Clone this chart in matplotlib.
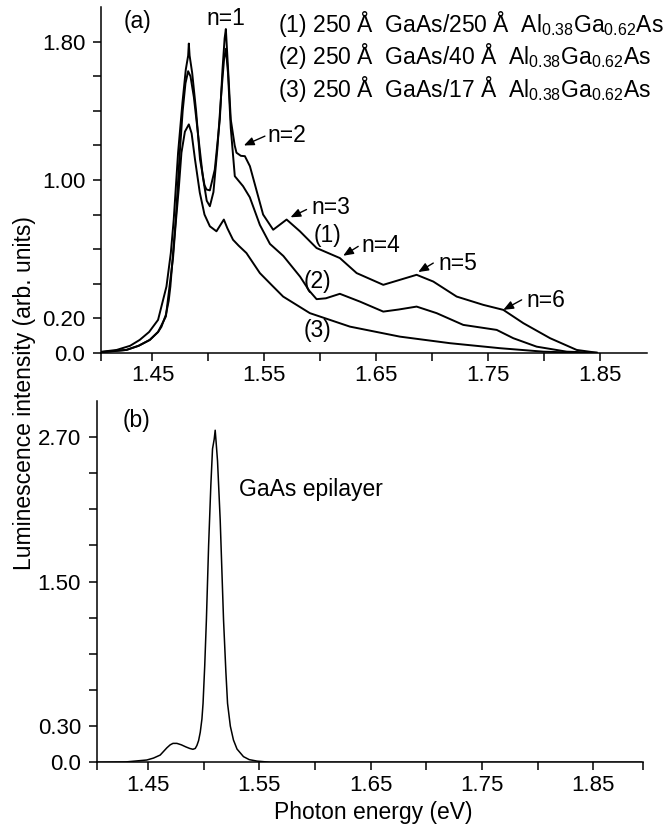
import matplotlib
matplotlib.use("Agg")
import matplotlib.pyplot as plt
from matplotlib.ticker import FixedLocator, FixedFormatter

plt.rcParams['font.family'] = ['Liberation Sans', 'DejaVu Sans']
plt.rcParams['mathtext.fontset'] = 'custom'
plt.rcParams['mathtext.rm'] = 'Liberation Sans'
plt.rcParams['mathtext.default'] = 'regular'

# ---------------- data (panel a) ----------------
x1 = [1.404, 1.418, 1.430, 1.4386, 1.447, 1.455, 1.4625, 1.4664, 1.469, 1.4729, 1.4768, 1.4798,
      1.4819, 1.4825, 1.4832, 1.4855, 1.489, 1.4925, 1.4965, 1.4983, 1.5013, 1.5057, 1.5102,
      1.5126, 1.5145, 1.5156, 1.5176, 1.520, 1.5235, 1.5251, 1.529, 1.5326, 1.5371, 1.5489,
      1.5579, 1.5699, 1.5818, 1.5967, 1.6175, 1.6325, 1.6563, 1.6712, 1.6861, 1.7010, 1.7219,
      1.7457, 1.7636, 1.7815, 1.8054, 1.8292, 1.847]
y1 = [0.005, 0.016, 0.040, 0.074, 0.12, 0.19, 0.383, 0.577, 0.77, 1.158, 1.448, 1.64,
      1.72, 1.79, 1.72, 1.62, 1.40, 1.12, 0.97, 0.945, 0.94, 1.06, 1.35,
      1.64, 1.82, 1.874, 1.64, 1.35, 1.20, 1.158, 1.14, 1.138, 1.08, 0.80,
      0.712, 0.771, 0.703, 0.606, 0.548, 0.461, 0.393, 0.422, 0.451, 0.412, 0.325,
      0.277, 0.248, 0.171, 0.084, 0.016, 0.0]

x2 = [1.404, 1.4267, 1.4376, 1.4476, 1.455, 1.458, 1.462, 1.4645, 1.466, 1.4684, 1.4708, 1.4744,
      1.477, 1.4795, 1.4819, 1.484, 1.487, 1.491, 1.495, 1.4985, 1.5013, 1.5045, 1.508, 1.5115,
      1.514, 1.5156, 1.5175, 1.520, 1.5236, 1.531, 1.537, 1.546, 1.555, 1.567, 1.582, 1.590,
      1.5967, 1.605, 1.6175, 1.6354, 1.6563, 1.670, 1.6861, 1.704, 1.7278, 1.7577, 1.7725,
      1.7934, 1.8203, 1.847]
y2 = [0.002, 0.016, 0.040, 0.074, 0.12, 0.15, 0.22, 0.30, 0.383, 0.577, 0.77, 1.158,
      1.40, 1.56, 1.63, 1.60, 1.48, 1.25, 1.02, 0.88, 0.848, 0.93, 1.18, 1.50,
      1.70, 1.76, 1.62, 1.30, 1.022, 0.964, 0.90, 0.74, 0.63, 0.56, 0.44, 0.36,
      0.31, 0.315, 0.341, 0.296, 0.238, 0.25, 0.267, 0.229, 0.161, 0.132, 0.084,
      0.035, 0.006, 0.0]

x3 = [1.404, 1.4267, 1.4376, 1.4476, 1.455, 1.462, 1.4684, 1.4708, 1.4735, 1.4759, 1.479,
      1.4825, 1.485, 1.488, 1.4923, 1.4965, 1.5013, 1.5072, 1.5138, 1.517, 1.522, 1.527, 1.534,
      1.546, 1.5568, 1.5668, 1.5907, 1.6265, 1.6712, 1.716, 1.7607, 1.7994, 1.830]
y3 = [0.004, 0.016, 0.040, 0.074, 0.12, 0.21, 0.55, 0.75, 0.95, 1.158, 1.28,
      1.322, 1.27, 1.12, 0.927, 0.80, 0.732, 0.703, 0.771, 0.72, 0.654, 0.62, 0.577,
      0.461, 0.39, 0.325, 0.229, 0.151, 0.093, 0.055, 0.026, 0.006, 0.0]

# ---------------- data (panel b) ----------------
xb = [1.404, 1.430, 1.449, 1.455, 1.461, 1.464, 1.467, 1.470, 1.4725, 1.476, 1.480, 1.484,
      1.4875, 1.4904, 1.4925, 1.494, 1.4955, 1.497, 1.4985, 1.4995, 1.501, 1.5025, 1.5045,
      1.5065, 1.508, 1.5095, 1.5104, 1.5112, 1.5125, 1.5149, 1.5179, 1.520, 1.5215, 1.524,
      1.5268, 1.530, 1.5358, 1.541, 1.548, 1.560, 1.893]
yb = [0.0, 0.003, 0.019, 0.035, 0.06, 0.09, 0.12, 0.145, 0.157, 0.157, 0.145, 0.128,
      0.115, 0.108, 0.115, 0.14, 0.18, 0.25, 0.36, 0.489, 0.80, 1.18, 1.80,
      2.30, 2.60, 2.68, 2.755, 2.66, 2.50, 2.01, 1.18, 0.75, 0.489, 0.30,
      0.185, 0.11, 0.047, 0.022, 0.01, 0.0, 0.0]

xticks_major = [1.45, 1.55, 1.65, 1.75, 1.85]
xtick_labels = ['1.45', '1.55', '1.65', '1.75', '1.85']
xticks_minor = [1.404, 1.50, 1.60, 1.70, 1.80]

ya_ticks = [0.0, 0.2, 1.0, 1.8]
ya_labels = ['0.0', '0.20', '1.00', '1.80']
ya_minor = [0.4, 0.6, 0.8, 1.2, 1.4, 1.6]

yb_ticks = [0.0, 0.3, 1.5, 2.7]
yb_labels = ['0.0', '0.30', '1.50', '2.70']
yb_minor = [0.6, 0.9, 1.2, 1.8, 2.1, 2.4]

legend_lines = [r'(1) 250 Å  GaAs/250 Å  Al$_{0.38}$Ga$_{0.62}$As',
                r'(2) 250 Å  GaAs/40 Å  Al$_{0.38}$Ga$_{0.62}$As',
                r'(3) 250 Å  GaAs/17 Å  Al$_{0.38}$Ga$_{0.62}$As']

W, H = 663, 831
fig = plt.figure(figsize=(W / 100, H / 100), dpi=100)

ax1 = fig.add_axes([101 / W, 1 - 352.7 / H, (647.3 - 101) / W, (352.7 - 7.3) / H])
ax2 = fig.add_axes([96.7 / W, 1 - 762.3 / H, (642.7 - 96.7) / W, (762.3 - 400.7) / H])

TICKFS = 16
for ax in (ax1, ax2):
    for s in ('top', 'right'):
        ax.spines[s].set_visible(False)
    for s in ('left', 'bottom'):
        ax.spines[s].set_linewidth(1.1)
    ax.tick_params(which='both', direction='out', length=5.8, width=1.1,
                   labelsize=TICKFS)
    ax.tick_params(axis='x', which='both', pad=3)
    ax.tick_params(axis='y', which='both', pad=5.5)
    ax.xaxis.set_major_locator(FixedLocator(xticks_major))
    ax.xaxis.set_major_formatter(FixedFormatter(xtick_labels))
    ax.patch.set_visible(False)

# Panel a
ax1.plot(x1, y1, color='black', lw=1.4)
ax1.plot(x2, y2, color='black', lw=1.4)
ax1.plot(x3, y3, color='black', lw=1.4)
ax1.set_xlim(1.404, 1.8923)
ax1.set_ylim(0, 2.0)
ax1.xaxis.set_minor_locator(FixedLocator(xticks_minor))
ax1.yaxis.set_major_locator(FixedLocator(ya_ticks))
ax1.yaxis.set_major_formatter(FixedFormatter(ya_labels))
ax1.yaxis.set_minor_locator(FixedLocator(ya_minor))

TFS = 16.5
ax1.text(1.4369, 1.92, '(a)', fontsize=TFS, ha='center', va='center')
ax1.text(1.5156, 1.935, 'n=1', fontsize=TFS, ha='center', va='center')
for i, line in enumerate(legend_lines):
    ax1.text(1.5621, [1.903, 1.719, 1.526][i], line, fontsize=TFS, ha='left', va='center')

arrow_kw = dict(arrowstyle='-|>,head_length=0.6,head_width=0.25', color='black', lw=1.0,
                mutation_scale=10, shrinkA=0, shrinkB=0)
ann = [('n=2', (1.5524, 1.258), (1.5505, 1.254), (1.5317, 1.200)),
       ('n=3', (1.5922, 0.843), (1.5877, 0.829), (1.5734, 0.784)),
       ('n=4', (1.6369, 0.6225), (1.6339, 0.6156), (1.6205, 0.5615)),
       ('n=5', (1.7052, 0.515), (1.7010, 0.519), (1.6876, 0.467)),
       ('n=6', (1.7845, 0.303), (1.7800, 0.306), (1.7636, 0.248))]
for label, tpos, tail, tip in ann:
    ax1.text(tpos[0], tpos[1], label, fontsize=TFS, ha='left', va='center')
    ax1.annotate('', xy=tip, xytext=tail, arrowprops=arrow_kw)

ax1.text(1.6068, 0.678, '(1)', fontsize=TFS, ha='center', va='center')
ax1.text(1.5978, 0.410, '(2)', fontsize=TFS, ha='center', va='center')
ax1.text(1.5978, 0.126, '(3)', fontsize=TFS, ha='center', va='center')

# Panel b
ax2.plot(xb, yb, color='black', lw=1.1)
ax2.set_xlim(1.404, 1.8943)
ax2.set_ylim(0, 3.0)
ax2.xaxis.set_minor_locator(FixedLocator(xticks_minor + [1.8943]))
ax2.yaxis.set_major_locator(FixedLocator(yb_ticks))
ax2.yaxis.set_major_formatter(FixedFormatter(yb_labels))
ax2.yaxis.set_minor_locator(FixedLocator(yb_minor))
ax2.text(1.4395, 2.838, '(b)', fontsize=TFS, ha='center', va='center')
ax2.text(1.532, 2.266, 'GaAs epilayer', fontsize=TFS, ha='left', va='center')

fig.text(25 / W, 1 - 393 / H, 'Luminescence intensity (arb. units)', rotation=90,
         fontsize=TFS, ha='center', va='center')
fig.text(373 / W, 1 - 812 / H, 'Photon energy (eV)', fontsize=TFS, ha='center', va='center')

fig.savefig('out.png', dpi=100)
